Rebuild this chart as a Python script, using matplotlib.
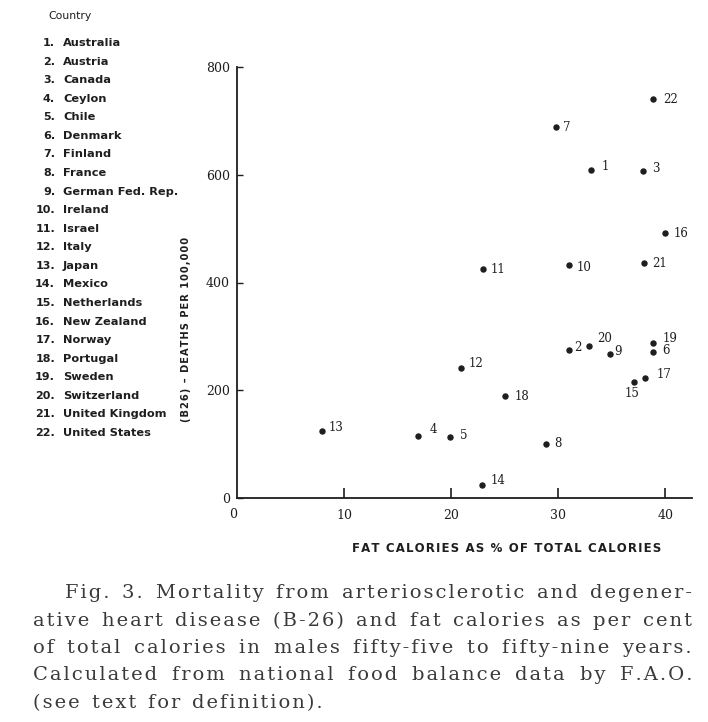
import matplotlib
matplotlib.use("Agg")
import matplotlib.pyplot as plt

# -----------------------------------------------------------------------
# Data
# -----------------------------------------------------------------------
countries = [
    "Australia", "Austria", "Canada", "Ceylon", "Chile", "Denmark",
    "Finland", "France", "German Fed. Rep.", "Ireland", "Israel", "Italy",
    "Japan", "Mexico", "Netherlands", "New Zealand", "Norway", "Portugal",
    "Sweden", "Switzerland", "United Kingdom", "United States",
]
fat_pct = [33.1, 31.0, 37.9, 16.9, 19.9, 38.9, 29.8, 28.9, 34.8, 31.0, 23.0,
           20.9, 7.9, 22.9, 37.1, 40.0, 38.1, 25.0, 38.9, 32.9, 38.0, 38.9]
deaths = [609, 274, 607, 116, 113, 271, 688, 100, 267, 433, 425,
          242, 125, 25, 216, 491, 223, 189, 287, 283, 436, 740]

x_ticks = [10, 20, 30, 40]
y_ticks = [0, 200, 400, 600, 800]

caption_lines = [
    "Fig. 3.  Mortality from arteriosclerotic and degener-",
    "ative heart disease (B-26) and fat calories as per cent",
    "of total calories in males fifty-five to fifty-nine years.",
    "Calculated from national food balance data by F.A.O.",
    "(see text for definition).",
]

# label offsets in pixels (dx, dy, ha) -- layout only
label_offsets = {
    1: (10, 3, "left"), 2: (5, 3, "left"), 3: (9, 2, "left"),
    4: (12, 6, "left"), 5: (10, 2, "left"), 6: (9, 1, "left"),
    7: (7, 0, "left"), 8: (8, 1, "left"), 9: (5, 3, "left"),
    10: (8, -3, "left"), 11: (7, 0, "left"), 12: (8, 4, "left"),
    13: (7, 3, "left"), 14: (8, 4, "left"), 15: (-2, -12, "center"),
    16: (8, 0, "left"), 17: (12, 3, "left"), 18: (10, 0, "left"),
    19: (9, 5, "left"), 20: (8, 7, "left"), 21: (8, 0, "left"),
    22: (10, 0, "left"),
}

W, H = 708, 722
INK = "#1e1e1e"
CAPTION_INK = "#3a3a3a"
HAIR = "\u200a"


def px(x, y):
    """pixel coords (top-left origin) -> figure fraction"""
    return x / W, 1 - y / H


def tracked(s, n=1):
    """wide letter spacing, like the old typewriter lettering"""
    return (HAIR * n).join(s)


fig = plt.figure(figsize=(W / 100, H / 100), dpi=100)
fig.patch.set_facecolor("white")

# -----------------------------------------------------------------------
# Scatter panel
# -----------------------------------------------------------------------
ax = fig.add_axes([237 / W, 1 - 498 / H, 455 / W, 431 / H])
ax.plot(fat_pct, deaths, "o", color=INK, markersize=3.6, linestyle="none")

for i, (xv, yv) in enumerate(zip(fat_pct, deaths), start=1):
    dx, dy, ha = label_offsets[i]
    ax.annotate(str(i), (xv, yv), xytext=(dx, dy), textcoords="offset pixels",
                ha=ha, va="center", fontsize=8.5, family="DejaVu Serif",
                color=INK)

ax.set_xlim(0, 42.5)
ax.set_ylim(0, 800)
for side in ("top", "right"):
    ax.spines[side].set_visible(False)
for side in ("left", "bottom"):
    ax.spines[side].set_linewidth(1.3)
    ax.spines[side].set_color(INK)

ax.set_xticks(x_ticks)
ax.set_yticks(y_ticks)
ax.tick_params(axis="x", direction="in", length=7, width=1.2, colors=INK,
               labelsize=9, pad=8)
ax.tick_params(axis="y", direction="in", length=4, width=1.0, colors=INK,
               labelsize=9, pad=5)
for lbl in ax.get_xticklabels() + ax.get_yticklabels():
    lbl.set_family("DejaVu Serif")
# the "0" on the x axis sits just left of the y axis
fig.text(*px(233, 514), "0", ha="center", va="center", fontsize=9,
         family="DejaVu Serif", color=INK)

fig.text(*px(186, 329), tracked("(B26) \u2013 DEATHS PER 100,000"),
         rotation=90, ha="center", va="center", fontsize=7.1,
         fontweight="bold", color=INK)
fig.text(*px(507, 548), tracked("FAT CALORIES AS % OF TOTAL CALORIES"),
         ha="center", va="center", fontsize=8.5, fontweight="bold", color=INK)

# -----------------------------------------------------------------------
# Country key
# -----------------------------------------------------------------------
fig.text(*px(48, 16), "Country", ha="left", va="center", fontsize=7.8,
         color=INK)
for i, name in enumerate(countries, start=1):
    y = 43 + (i - 1) * 18.57
    fig.text(*px(55, y), f"{i}.", ha="right", va="center", fontsize=8,
             fontweight="bold", color=INK)
    fig.text(*px(63, y), name, ha="left", va="center", fontsize=8.2,
             fontweight="bold", color=INK)

# -----------------------------------------------------------------------
# Caption, justified like the printed page
# -----------------------------------------------------------------------
renderer = fig.canvas.get_renderer()


def put_line(text, x0, x1, y, justify=True):
    words = text.split()
    items = [fig.text(*px(0, y), tracked(w, 1), ha="left", va="center",
                      fontsize=14, family="DejaVu Serif", color=CAPTION_INK)
             for w in words]
    widths = [t.get_window_extent(renderer).width for t in items]
    if justify and len(words) > 1:
        gap = (x1 - x0 - sum(widths)) / (len(words) - 1)
    else:
        gap = 12
    x = x0
    for t, w in zip(items, widths):
        t.set_position(px(x, y))
        x += w + gap


caption_y = [593, 621, 648, 675, 703]
for k, (line, y) in enumerate(zip(caption_lines, caption_y)):
    x0 = 65 if k == 0 else 33
    put_line(line, x0, 692, y, justify=(k < len(caption_lines) - 1))

fig.savefig("out.png", dpi=100, facecolor="white")
